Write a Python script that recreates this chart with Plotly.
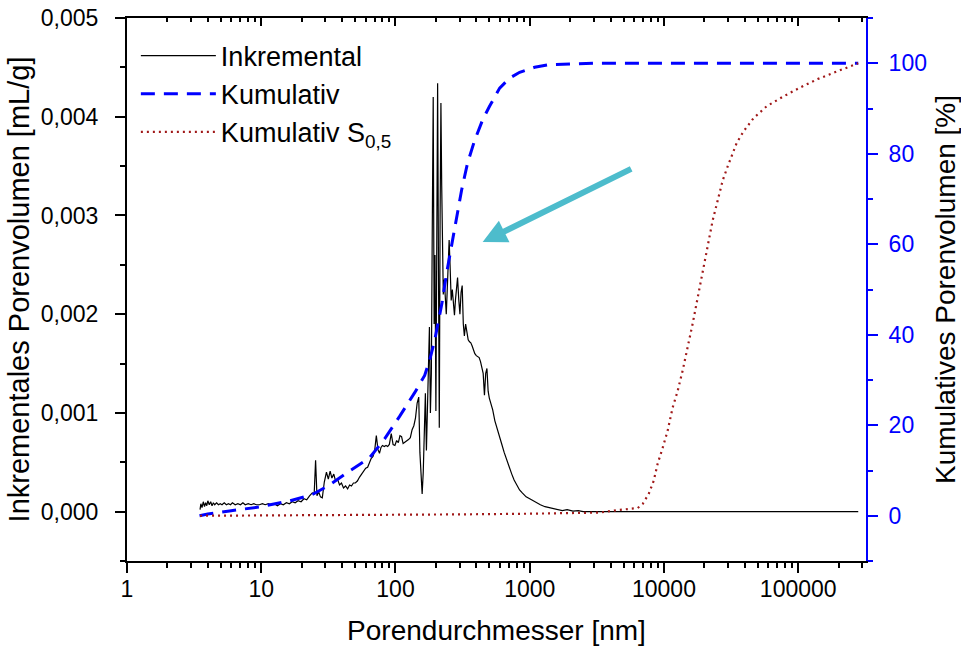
import math
import plotly.graph_objects as go

# ---------------- data ----------------
# Incremental pore volume [mL/g] vs pore diameter [nm]
inc_diameter = [
    3.5, 3.55, 3.62, 3.7, 3.78, 3.85, 3.93, 4.0, 4.1, 4.2,
    4.3, 4.4, 4.5, 4.65, 4.8, 4.95, 5.1, 5.3, 5.5, 5.7,
    5.9, 6.1, 6.4, 6.7, 7.0, 7.3, 7.6, 8.0, 8.4, 8.8,
    9.2, 9.7, 10.2, 10.7, 11.3, 11.9, 12.5, 13.2, 13.9, 14.6,
    15.4, 16.2, 17.0, 17.9, 18.8, 19.8, 20.8, 21.8, 22.9, 24.0,
    24.8, 25.4, 26.0, 26.8, 27.6, 28.5, 29.5, 30.6, 31.6, 32.6,
    33.6, 34.7, 35.8, 37.0, 38.3, 39.6, 41.0, 42.5, 44.0, 45.5,
    47.0, 48.6, 50.2, 52.0, 54.0, 56.0, 58.0, 60.0, 62.0, 64.0,
    66.0, 68.0, 70.0, 72.0, 74.0, 76.0, 78.0, 80.0, 82.5, 85.0,
    87.5, 90.0, 93.0, 96.0, 99.0, 102, 105, 108, 111, 114,
    117, 121, 125, 129, 133, 137, 141, 145, 149, 152,
    155, 158, 161, 164, 167, 170, 173, 176, 179, 182,
    185, 188, 191, 194, 197, 200, 203, 206, 209, 212,
    215, 218, 221, 224, 227, 231, 235, 239, 243, 247,
    251, 255, 260, 265, 270, 275, 280, 285, 290, 296,
    302, 308, 314, 320, 326, 333, 340, 348, 356, 364,
    372, 381, 390, 400, 410, 420, 430, 440, 450, 460,
    470, 480, 490, 500, 515, 530, 550, 570, 595, 620,
    645, 670, 700, 735, 765, 800, 840, 880, 940, 1000,
    1060, 1120, 1200, 1300, 1400, 1500, 1600, 1750, 1900, 2100,
    2300, 2500, 3000, 4000, 6000, 10000, 20000, 50000, 100000, 280000,
]
inc_volume = [
    0.00002, 0.00008, 0.00004, 0.00010, 0.00005, 0.00009, 0.00006, 0.00011, 0.00007, 0.00010,
    0.00006, 0.00009, 0.00007, 0.00009, 0.00007, 0.00008, 0.00007, 0.00009, 0.00007, 0.00008,
    0.00007, 0.00009, 0.00007, 0.00008, 0.00007, 0.00009, 0.00007, 0.00008, 0.00007, 0.00008,
    0.00007, 0.00007, 0.00008, 0.00007, 0.00008, 0.00007, 0.00008, 0.00006, 0.00008, 0.00007,
    0.00009, 0.00008, 0.00010, 0.00009, 0.00011, 0.00010, 0.00013, 0.00012, 0.00016, 0.00019,
    0.00018, 0.00052, 0.00016, 0.00020, 0.00015, 0.00014, 0.00030, 0.00040, 0.00033, 0.00041,
    0.00034, 0.00038, 0.00031, 0.00033, 0.00027, 0.00029, 0.00024, 0.00026, 0.00023, 0.00027,
    0.00026, 0.00029, 0.00029, 0.00031, 0.00035, 0.00038, 0.00041, 0.00044, 0.00045, 0.00050,
    0.00054, 0.00056, 0.00062, 0.00077, 0.00063, 0.00059, 0.00065, 0.00067, 0.00066, 0.00067,
    0.00066, 0.00068, 0.00079, 0.00068, 0.00067, 0.00072, 0.00070, 0.00077, 0.00076, 0.00069,
    0.00070, 0.00072, 0.00073, 0.00075, 0.00083, 0.00087, 0.00095, 0.00110, 0.00116, 0.00060,
    0.00030, 0.00018, 0.00040, 0.00080, 0.00120, 0.00062, 0.00110, 0.00150, 0.00187, 0.00100,
    0.00140, 0.00290, 0.00420, 0.00190, 0.00260, 0.00102, 0.00360, 0.00434, 0.00250, 0.00085,
    0.00300, 0.00414, 0.00330, 0.00260, 0.00220, 0.00235, 0.00210, 0.00200, 0.00225, 0.00262,
    0.00275, 0.00250, 0.00214, 0.00225, 0.00205, 0.00199, 0.00215, 0.00230, 0.00237, 0.00215,
    0.00200, 0.00222, 0.00229, 0.00190, 0.00178, 0.00190, 0.00180, 0.00174, 0.00172, 0.00171,
    0.00168, 0.00163, 0.00160, 0.00158, 0.00157, 0.00156, 0.00152, 0.00146, 0.00140, 0.00118,
    0.00140, 0.00145, 0.00122, 0.00115, 0.00110, 0.00103, 0.00092, 0.00084, 0.00075, 0.00068,
    0.00060, 0.00053, 0.00046, 0.00038, 0.00032, 0.00027, 0.00022, 0.00019, 0.00015, 0.00013,
    0.00011, 0.00009, 0.00007, 0.00005, 0.00004, 0.00003, 0.00002, 0.00001, 0.00002, 0.000005,
    0.00001, 0.0, 0.0, 0.0, 0.0, 0.0, 0.0, 0.0, 0.0, 0.0,
]

# Cumulative pore volume [%]
cum_diameter = [3.47, 4.0, 5.8, 9.71, 16.2, 23.7, 32.3, 45.5, 64.1, 83.0,
                107, 139, 165, 180, 195, 210, 222, 240, 262, 285,
                311, 344, 388, 446, 502, 597, 708, 841, 1088, 1408,
                1984, 3000, 280000]
cum_percent = [0.0, 0.4, 1.06, 1.95, 3.28, 4.6, 6.8, 9.9, 12.8, 17.0,
               21.9, 27.2, 31.0, 34.5, 38.5, 43.5, 47.0, 53.5, 59.5, 65.9,
               72.0, 77.9, 82.9, 87.5, 90.5, 94.5, 96.7, 98.0, 99.1, 99.7,
               99.9, 100.0, 100.0]

# Cumulative S0,5 [%]
s05_diameter = [3.5, 10, 30, 100, 300, 1000, 2000, 3319, 4677, 6369,
                6937, 7690, 8380, 8975, 9775, 10650, 11610, 12650, 13780, 15020,
                16370, 17830, 19430, 21170, 23070, 25140, 27380, 29830, 31970, 34830,
                39270, 46590, 58240, 77980, 104400, 139700, 187100, 263700, 280000]
s05_percent = [0.0, 0.05, 0.1, 0.2, 0.3, 0.45, 0.6, 0.7, 1.3, 1.7,
               2.6, 4.8, 7.7, 11.5, 15.0, 18.8, 23.9, 27.6, 32.1, 37.2,
               42.5, 48.2, 54.2, 60.2, 65.3, 69.7, 74.1, 77.2, 79.5, 82.4,
               85.0, 87.9, 90.5, 92.7, 94.7, 96.5, 98.0, 99.8, 100.0]

x_tick_values = [1, 10, 100, 1000, 10000, 100000]
x_tick_labels = ["1", "10", "100", "1000", "10000", "100000"]
y_tick_values = [0.0, 0.001, 0.002, 0.003, 0.004, 0.005]
y_tick_labels = ["0,000", "0,001", "0,002", "0,003", "0,004", "0,005"]
y2_tick_values = [0, 20, 40, 60, 80, 100]
y2_tick_labels = ["0", "20", "40", "60", "80", "100"]

# ---------------- figure ----------------
FONT = "Liberation Sans, Arial, Helvetica, sans-serif"
BLUE = "#0000ff"
X_RANGE = [0, 5.505]
x_minor = [m * 10 ** k for k in range(0, 6) for m in range(2, 10) if m * 10 ** k <= 320000]

fig = go.Figure()
fig.add_trace(go.Scatter(x=inc_diameter, y=inc_volume, mode="lines", name="Inkremental",
                         line=dict(color="black", width=1.2)))
fig.add_trace(go.Scatter(x=cum_diameter, y=cum_percent, mode="lines", name="Kumulativ",
                         yaxis="y2", line=dict(color=BLUE, width=3, dash="14px,9px")))
fig.add_trace(go.Scatter(x=s05_diameter, y=s05_percent, mode="lines",
                         name="Kumulativ S<sub>0,5</sub>", yaxis="y2",
                         line=dict(color="#a01818", width=2.2, dash="2px,4px")))
# carrier for the mirrored top axis
fig.add_trace(go.Scatter(x=[], y=[], xaxis="x2", showlegend=False, hoverinfo="skip"))

fig.update_layout(
    width=961, height=648,
    margin=dict(l=127, r=95, t=18, b=87),
    paper_bgcolor="white", plot_bgcolor="white",
    font=dict(family=FONT, size=23, color="black"),
    legend=dict(x=0.012, y=0.975, xanchor="left", yanchor="top",
                bgcolor="rgba(0,0,0,0)", font=dict(size=27, color="black"),
                itemwidth=75, tracegroupgap=0),
    xaxis=dict(type="log", range=X_RANGE, tickmode="array", automargin=False,
               tickvals=x_tick_values, ticktext=x_tick_labels,
               ticks="outside", ticklen=10, tickwidth=1.5, tickcolor="black",
               ticklabelstandoff=-4,
               showline=True, linecolor="black", linewidth=2, showgrid=False, zeroline=False,
               minor=dict(tickmode="array", tickvals=x_minor, ticks="outside",
                          ticklen=5, tickwidth=1.5, tickcolor="black", showgrid=False),
               title=dict(text="Porendurchmesser [nm]", font=dict(size=28), standoff=20)),
    xaxis2=dict(type="log", range=X_RANGE, overlaying="x", side="top", automargin=False,
                tickmode="array", tickvals=x_tick_values, showticklabels=False,
                ticks="inside", ticklen=8, tickwidth=1.5, tickcolor="black",
                showline=True, linecolor="black", linewidth=2, showgrid=False, zeroline=False,
                minor=dict(tickmode="array", tickvals=x_minor, ticks="inside",
                           ticklen=4, tickwidth=1.5, tickcolor="black", showgrid=False)),
    yaxis=dict(range=[-0.0005, 0.005], tickmode="array", automargin=False,
               tickvals=y_tick_values, ticktext=y_tick_labels,
               ticks="outside", ticklen=10, tickwidth=1.5, tickcolor="black",
               ticklabelstandoff=12,
               showline=True, linecolor="black", linewidth=2, showgrid=False, zeroline=False,
               minor=dict(dtick=0.0005, tick0=0, ticks="outside", ticklen=5,
                          tickwidth=1.5, tickcolor="black", showgrid=False),
               title=dict(text="Inkrementales Porenvolumen [mL/g]", font=dict(size=29), standoff=3)),
    yaxis2=dict(range=[-10, 110], overlaying="y", side="right", tickmode="array", automargin=False,
                tickvals=y2_tick_values, ticktext=y2_tick_labels,
                ticks="outside", ticklen=10, tickwidth=1.5, tickcolor=BLUE,
                tickfont=dict(color=BLUE), ticklabelstandoff=6,
                showline=True, linecolor=BLUE, linewidth=2, showgrid=False, zeroline=False,
                minor=dict(dtick=10, tick0=0, ticks="outside", ticklen=5,
                           tickwidth=1.5, tickcolor=BLUE, showgrid=False),
                title=dict(text="Kumulatives Porenvolumen [%]", font=dict(size=28, color="black"),
                           standoff=10)),
)

# cyan arrow pointing at the steep part of the cumulative curve
fig.add_annotation(x=math.log10(446), y=0.00273, xref="x", yref="y",
                   ax=150, ay=-74, text="", showarrow=True,
                   arrowhead=2, arrowsize=0.8, arrowwidth=6, arrowcolor="#4dbccc")

# remove the default page margin so the 961x648 figure fills the window exactly
fig.write_html("out.html", config={"displayModeBar": False},
               post_script="document.body.style.margin='0px';")
